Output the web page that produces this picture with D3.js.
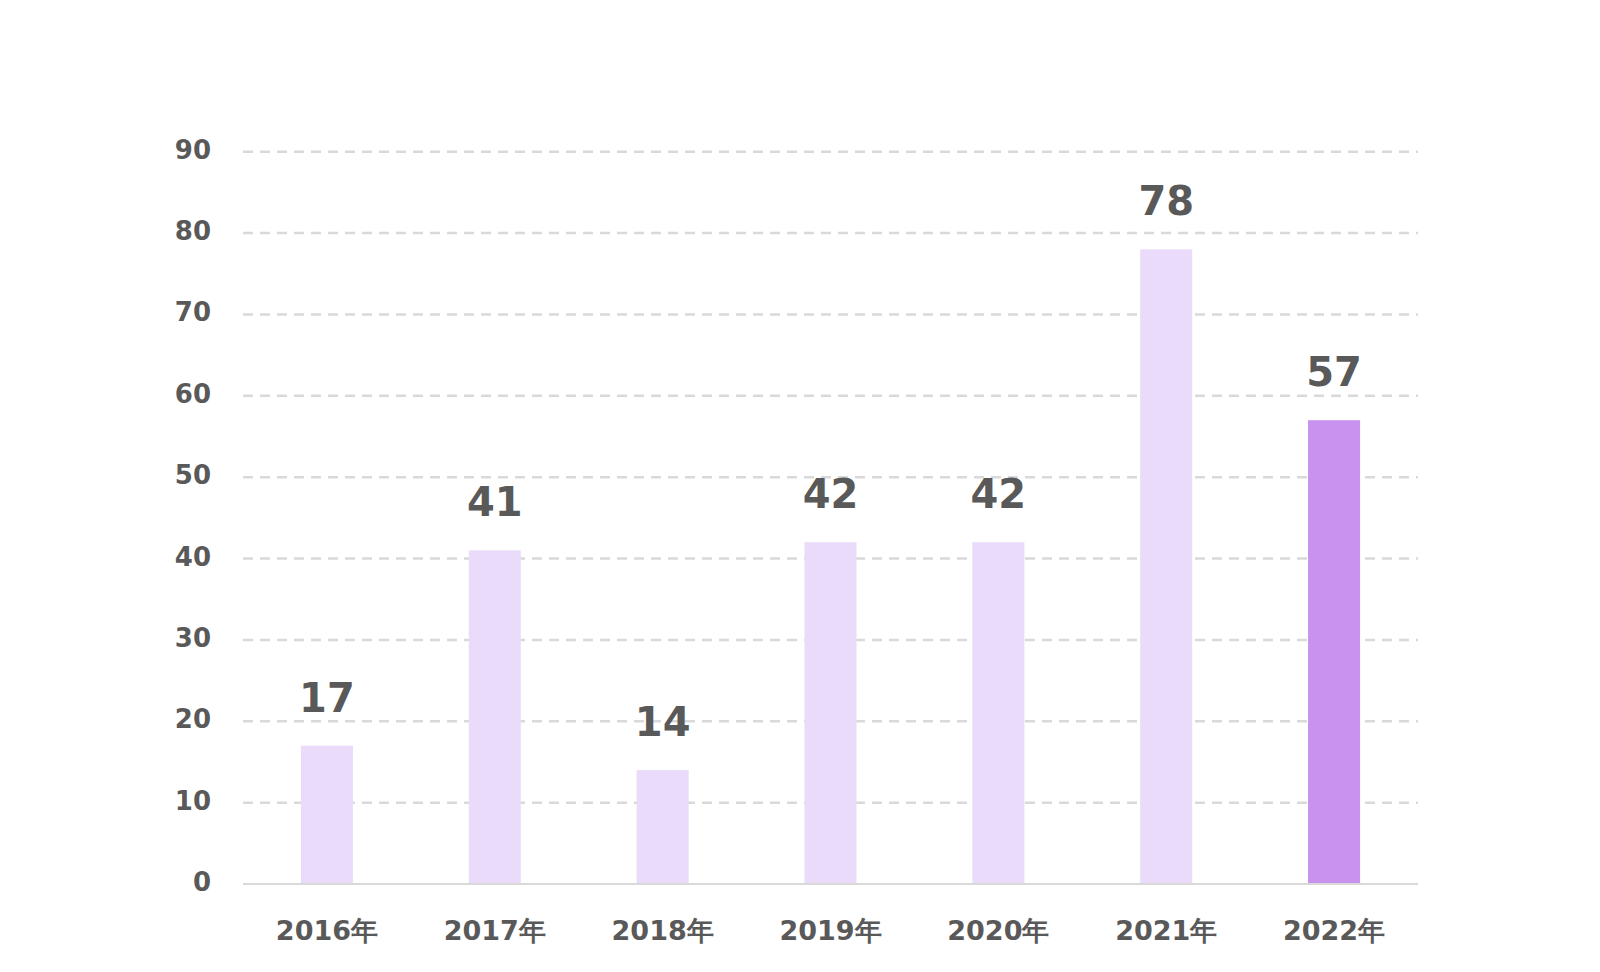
<!DOCTYPE html>
<html>
<head>
<meta charset="utf-8">
<script src="https://cdn.jsdelivr.net/npm/d3@7/dist/d3.min.js"></script>
<style>
  html, body { margin: 0; padding: 0; background: #ffffff; }
  svg { display: block; }
  text { font-family: Verdana, "DejaVu Sans", sans-serif; font-weight: bold; fill: #595959; }
</style>
</head>
<body>
<script>
const categories = ["2016年", "2017年", "2018年", "2019年", "2020年", "2021年", "2022年"];
const values = [17, 41, 14, 42, 42, 78, 57];
const yTicks = [0, 10, 20, 30, 40, 50, 60, 70, 80, 90];
const highlight = "2022年";

const W = 1600, H = 972;
const svg = d3.select("body").append("svg").attr("width", W).attr("height", H);

const x = d3.scaleBand().domain(categories).range([243, 1418]).paddingInner(0.69).paddingOuter(0.345);
const y = d3.scaleLinear().domain([0, 90]).range([884, 151.7]);

// gridlines
svg.append("g").selectAll("line").data(yTicks.filter(d => d > 0)).join("line")
  .attr("x1", 243).attr("x2", 1418)
  .attr("y1", d => y(d)).attr("y2", d => y(d))
  .attr("stroke", "#d9d9d9").attr("stroke-width", 2.5)
  .attr("stroke-dasharray", "10,7");

// y tick labels
svg.append("g").selectAll("text").data(yTicks).join("text")
  .attr("x", 211).attr("y", d => y(d) + 7)
  .attr("text-anchor", "end")
  .attr("font-size", 26)
  .text(d => d);

// bars
svg.append("g").selectAll("rect").data(values).join("rect")
  .attr("x", (d, i) => x(categories[i]))
  .attr("width", x.bandwidth())
  .attr("y", d => y(d))
  .attr("height", d => y(0) - y(d))
  .attr("fill", (d, i) => categories[i] === highlight ? "#c892ee" : "#eadbfa");

// baseline
svg.append("line")
  .attr("x1", 243).attr("x2", 1418)
  .attr("y1", y(0)).attr("y2", y(0))
  .attr("stroke", "#d9d9d9").attr("stroke-width", 2);

// value labels
svg.append("g").selectAll("text").data(values).join("text")
  .attr("x", (d, i) => x(categories[i]) + x.bandwidth() / 2)
  .attr("y", d => y(d) - 34)
  .attr("text-anchor", "middle")
  .attr("font-size", 40)
  .text(d => d);

// x labels
svg.append("g").selectAll("text").data(categories).join("text")
  .attr("x", d => x(d) + x.bandwidth() / 2)
  .attr("y", 940)
  .attr("text-anchor", "middle")
  .attr("font-size", 27)
  .text(d => d);
</script>
</body>
</html>
